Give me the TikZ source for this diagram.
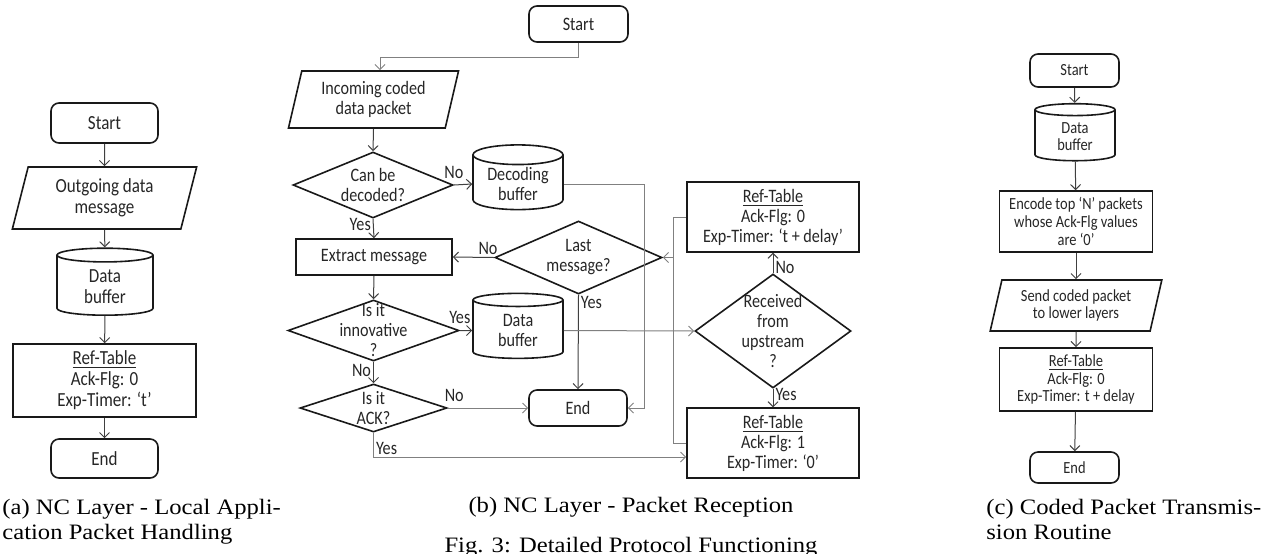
\documentclass[tikz,border=0pt]{standalone}
\usepackage{fontspec}
\setmainfont{Liberation Serif}[FakeStretch=1.12]
\newfontfamily\flowfont{Carlito}[FakeStretch=0.85]
\usetikzlibrary{shapes.geometric, arrows.meta}

\newcommand{\flowA}{\flowfont\fontsize{10}{10.5}\selectfont}
\newcommand{\flowB}{\flowfont\fontsize{9.5}{10}\selectfont}
\newcommand{\flowC}{\flowfont\fontsize{8.5}{8.8}\selectfont}

\tikzset{
  shp/.style={draw=black!90, line width=0.8pt, text=black!85, align=center},
  term/.style={shp, rounded corners=4pt},
  proc/.style={shp},
  io/.style={shp, trapezium, trapezium left angle=76, trapezium right angle=104,
    trapezium stretches=true, inner sep=1pt},
  store/.style={shp, cylinder, shape border rotate=90, aspect=0.3, inner sep=1pt},
  dec/.style={shp, diamond, inner sep=0pt},
  arr/.style={-{Straight Barb[length=2.5pt,width=5pt]}, line width=0.5pt, black!75},
  arrg/.style={arr, black!50},
  lbl/.style={inner sep=1pt, font=\flowB, text=black!85},
  capt/.style={inner sep=0pt, font=\fontsize{11}{12.5}\selectfont, align=left}
}

\begin{document}
\begin{tikzpicture}[x=0.5pt, y=-0.5pt]
  \useasboundingbox (0,0) rectangle (1263,553);

  % (a) local application packet
  \node[term, font=\flowA, minimum width=53.5pt, minimum height=20pt] (a1) at (104.5,123) {Start};
  \node[io, font=\flowA, minimum width=92.5pt, minimum height=31pt] (a2) at (104.5,198) {Outgoing data\\message};
  \node[store, font=\flowA, minimum width=48pt, minimum height=33.5pt] (a3) at (105,286.5) {Data\\buffer};
  \node[proc, font=\flowA, minimum width=91.5pt, minimum height=36.5pt] (a4) at (104.5,380.5) {\underline{Ref-Table}\\Ack-Flg: 0\\Exp-Timer: ‘t’};
  \node[term, font=\flowA, minimum width=53.5pt, minimum height=19.5pt] (a5) at (104.5,458.5) {End};

  \draw[arr] (a1) -- (a2);
  \draw[arr] (a2) -- (a3);
  \draw[arr] (a3) -- (a4);
  \draw[arr] (a4) -- (a5);

  % (b) packet reception
  \node[term, font=\flowB, minimum width=49.5pt, minimum height=18pt] (b1) at (578.5,24) {Start};
  \node[io, font=\flowB, minimum width=85.5pt, minimum height=28.5pt] (b2) at (373.5,99.5) {Incoming coded\\data packet};
  \node[dec, minimum width=80pt, minimum height=33pt,
    label={[lbl, align=center, inner sep=0pt]center:{Can be\\decoded?}}] (b3) at (373,185) {};
  \node[store, font=\flowB, minimum width=45pt, minimum height=31pt] (b4) at (518,184) {Decoding\\buffer};
  \node[proc, font=\flowB, minimum width=78pt, minimum height=18pt] (b5) at (374,257) {Extract message};
  \node[dec, minimum width=83.5pt, minimum height=36.5pt,
    label={[lbl, align=center, inner sep=0pt]center:{Last\\message?}}] (b6) at (578.5,257.5) {};
  \node[dec, minimum width=85.5pt, minimum height=30.5pt,
    label={[lbl, align=center, inner sep=0pt]center:{Is it\\innovative\\?}}] (b7) at (373.5,330.5) {};
  \node[store, font=\flowB, minimum width=45pt, minimum height=32.5pt] (b8) at (518,330.5) {Data\\buffer};
  \node[dec, minimum width=78pt, minimum height=57pt,
    label={[lbl, align=center, inner sep=0pt]center:{Received\\from\\upstream\\?}}] (b9) at (773,331) {};
  \node[proc, font=\flowB, minimum width=86pt, minimum height=34pt] (b10) at (773,217) {\underline{Ref-Table}\\Ack-Flg: 0\\Exp-Timer: ‘t + delay’};
  \node[proc, font=\flowB, minimum width=86pt, minimum height=34pt] (b11) at (773,443) {\underline{Ref-Table}\\Ack-Flg: 1\\Exp-Timer: ‘0’};
  \node[dec, minimum width=73.5pt, minimum height=24pt,
    label={[lbl, align=center, inner sep=0pt]center:{Is it\\ACK?}}] (b12) at (373.5,408) {};
  \node[term, font=\flowB, minimum width=49pt, minimum height=18pt] (b13) at (578,408) {End};

  \coordinate (bturn) at (380,57);
  \coordinate (bx) at (644,0);
  \coordinate (by) at (673,0);

  \draw[arrg] (b1.south) |- (bturn) -- (bturn |- b2.north);
  \draw[arr] (b2.south) -- (b3.north);
  \draw[arr] (b3.east) -- (b4.west) node[lbl, above=2pt, pos=0] {No};
  \draw[arr] (b3.south) -- (b5.north) node[lbl, left, pos=0.3] {Yes};
  \draw[arrg] (b4.east) -| (bx |- b13.east) -- (b13.east);
  \draw[arr] (b6.west) -- (b5.east) node[lbl, above, pos=0.15] {No};
  \draw[arr] (b6.south) -- (b13.north) node[lbl, right, pos=0.08] {Yes};
  \draw[arr] (b5.south) -- (b7.north);
  \draw[arr] (b7.east) -- (b8.west) node[lbl, above=2pt, pos=0] {Yes};
  \draw[arr] (b7.south) -- (b12.north) node[lbl, left, pos=0.4] {No};
  \draw[arrg] (b8.east) -- (b9.west);
  \draw[arrg] (b12.east) -- (b13.west) node[lbl, above=2pt, pos=0.08] {No};
  \draw[arrg] (b12.south) |- ([yshift=-7pt]b11.west) node[lbl, right, pos=0.32] {Yes};
  \draw[arr] (b9.north) -- (b10.south) node[lbl, right, pos=0.3] {No};
  \draw[arr] (b9.south) -- (b11.north) node[lbl, right, pos=0.32] {Yes};
  \draw[arrg] (b10.west) -| (by |- b6.east) -- (b6.east);
  \draw[arrg, -] (b11.west) -| (by |- b6.east);

  % (c) coded packet transmission
  \node[term, font=\flowC, minimum width=44.5pt, minimum height=16.5pt] (c1) at (1074.5,70.5) {Start};
  \node[store, font=\flowC, minimum width=40pt, minimum height=28.5pt] (c2) at (1075,136.5) {Data\\buffer};
  \node[proc, font=\flowC, minimum width=76.5pt, minimum height=30.5pt] (c3) at (1076,221.5) {Encode top ‘N’ packets\\whose Ack-Flg values\\are ‘0’};
  \node[io, font=\flowC, minimum width=86pt, minimum height=25.5pt] (c4) at (1076,305.5) {Send coded packet\\to lower layers};
  \node[proc, font=\flowC, minimum width=76.5pt, minimum height=20.5pt] (c5) at (1076,379.5) {\underline{Ref-Table}\\Ack-Flg: 0\\Exp-Timer: t + delay};
  \node[term, font=\flowC, minimum width=44.5pt, minimum height=15.5pt] (c6) at (1074.5,467.5) {End};

  \draw[arr] (c1) -- (c2);
  \draw[arr] (c2) -- (c3);
  \draw[arr] (c3) -- (c4);
  \draw[arr] (c4) -- (c5);
  \draw[arr] (c5) -- (c6);

  % captions
  \node[capt, anchor=north west] (capa) at (2,499) {(a) NC Layer - Local Appli-\\cation Packet Handling};
  \node[capt, anchor=north] (capb) at (631,497) {(b) NC Layer - Packet Reception};
  \node[capt, anchor=north] (capf) at (631,537) {Fig. 3: Detailed Protocol Functioning};
  \node[capt, anchor=north west] (capc) at (986,499) {(c) Coded Packet Transmis-\\sion Routine};
\end{tikzpicture}
\end{document}
